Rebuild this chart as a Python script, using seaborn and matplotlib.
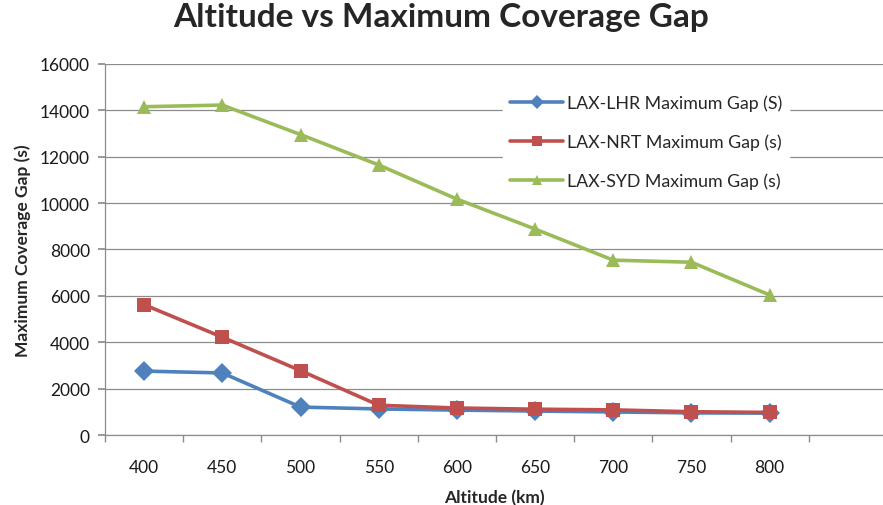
import matplotlib
matplotlib.use("Agg")
import matplotlib.pyplot as plt
import numpy as np
import pandas as pd
import seaborn as sns
from matplotlib.ticker import FixedLocator

altitudes = ["400", "450", "500", "550", "600", "650", "700", "750", "800"]
lhr_gap = [2760, 2680, 1210, 1130, 1080, 1040, 1000, 960, 950]
nrt_gap = [5620, 4220, 2780, 1290, 1170, 1120, 1090, 1010, 980]
syd_gap = [14150, 14220, 12950, 11640, 10170, 8880, 7540, 7450, 6040]
series_names = ["LAX-LHR Maximum Gap (S)", "LAX-NRT Maximum Gap (s)", "LAX-SYD Maximum Gap (s)"]

df = pd.DataFrame({
    "Altitude (km)": altitudes * 3,
    "gap": lhr_gap + nrt_gap + syd_gap,
    "series": np.repeat(series_names, len(altitudes)),
})

sns.set_theme(style="white")
plt.rcParams["font.family"] = ["Lato", "DejaVu Sans"]

fig = plt.figure(figsize=(8.83, 5.06), dpi=100)
ax = fig.add_axes([0.119, 0.138, 0.881, 0.734])

colors = ["#4F81BD", "#C0504D", "#9BBB59"]
sns.lineplot(data=df, x="Altitude (km)", y="gap", hue="series", style="series",
             palette=colors, markers=["D", "s", "^"], dashes=False,
             linewidth=2.6, markersize=10.5, markeredgewidth=0, ax=ax)

ax.set_ylim(0, 16000)
ax.set_yticks(np.arange(0, 16001, 2000))
ax.set_xlim(-0.5, 9.45)
ax.grid(axis="y", color="#8c8c8c", linewidth=0.9)
ax.set_axisbelow(True)
for s in ["top", "right"]:
    ax.spines[s].set_visible(False)
for s in ["left", "bottom"]:
    ax.spines[s].set_color("#8c8c8c")
    ax.spines[s].set_linewidth(0.9)

ax.xaxis.set_minor_locator(FixedLocator(np.arange(-0.5, 9.6, 1)))
ax.tick_params(axis="x", which="major", length=0, pad=17, labelsize=12.5, labelcolor="#1a1a1a")
ax.tick_params(axis="x", which="minor", length=5, color="#8c8c8c", direction="out", bottom=True)
ax.tick_params(axis="y", which="major", length=5, color="#8c8c8c", direction="out", left=True,
               labelsize=12.5, labelcolor="#1a1a1a", pad=6)

ax.set_xlabel("Altitude (km)", fontsize=12.5, fontweight="bold", labelpad=10)
ax.set_ylabel("Maximum Coverage Gap (s)", fontsize=12.5, fontweight="bold", labelpad=6)
fig.suptitle("Altitude vs Maximum Coverage Gap", fontsize=24, fontweight="bold", y=0.995)

ax.legend(loc="upper left", bbox_to_anchor=(0.5, 0.96), frameon=True, framealpha=1,
          facecolor="white", edgecolor="white", fontsize=12.8, labelspacing=1.25,
          handlelength=3.0, handletextpad=0.2, borderpad=0.4, markerscale=0.7)

fig.savefig("out.png", dpi=100)
